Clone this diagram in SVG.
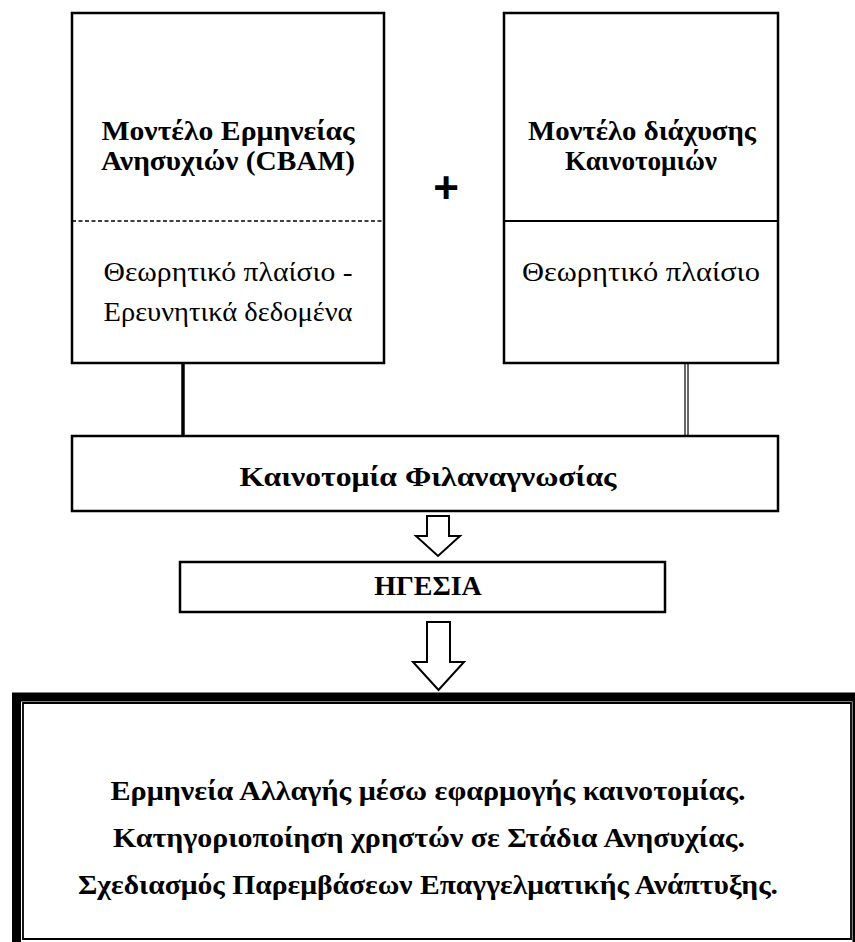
<svg xmlns="http://www.w3.org/2000/svg" width="855" height="942" viewBox="0 0 855 942">
<style>
.box{fill:#fff;stroke:#000;stroke-width:2.5}
.b{font-family:'Liberation Serif','Times New Roman','DejaVu Serif',serif;font-weight:bold;font-size:28px;fill:#000;text-anchor:middle}
.r{font-family:'Liberation Serif','Times New Roman','DejaVu Serif',serif;font-size:28px;fill:#000;text-anchor:middle}
.ln{stroke:#000;fill:none}
.arrow{fill:#fff;stroke:#000;stroke-width:2}
</style>
<rect width="855" height="942" fill="#fff"/>
<g id="cbam">
<rect class="box" x="72" y="13" width="312" height="350"/>
<line class="ln" x1="72" y1="221" x2="384" y2="221" stroke-width="1.5" stroke-dasharray="4,2.5"/>
<text class="b" x="228" y="140" textLength="253" lengthAdjust="spacingAndGlyphs">Μοντέλο Ερμηνείας</text>
<text class="b" x="228" y="170" textLength="254" lengthAdjust="spacingAndGlyphs">Ανησυχιών (CBAM)</text>
<text class="r" x="228" y="281" textLength="249" lengthAdjust="spacingAndGlyphs">Θεωρητικό πλαίσιο -</text>
<text class="r" x="228" y="321" textLength="249" lengthAdjust="spacingAndGlyphs">Ερευνητικά δεδομένα</text>
</g>
<g id="diffusion">
<rect class="box" x="504" y="13" width="274" height="350"/>
<line class="ln" x1="504" y1="221" x2="778" y2="221" stroke-width="2"/>
<text class="b" x="642" y="140" textLength="228" lengthAdjust="spacingAndGlyphs">Μοντέλο διάχυσης</text>
<text class="b" x="641" y="170" textLength="152" lengthAdjust="spacingAndGlyphs">Καινοτομιών</text>
<text class="r" x="641" y="281" textLength="238" lengthAdjust="spacingAndGlyphs">Θεωρητικό πλαίσιο</text>
</g>
<g id="plus">
<text x="446" y="203" font-family="'Liberation Sans', Arial, sans-serif" font-weight="bold" font-size="44" text-anchor="middle">+</text>
</g>
<g id="connectors">
<line class="ln" x1="183" y1="363" x2="183" y2="436" stroke-width="3.5"/>
<line class="ln" x1="685" y1="363" x2="685" y2="436" stroke-width="1.2"/>
<line class="ln" x1="688" y1="363" x2="688" y2="436" stroke-width="1.2"/>
<path class="arrow" d="M427,516 H449 V536 H460 L438,556 L416,536 H427 Z"/>
<path class="arrow" d="M427,622 H450 V662 H464 L438.5,690 L413,662 H427 Z" stroke-width="3"/>
</g>
<g id="filanagnosia">
<rect class="box" x="72" y="436" width="706" height="75"/>
<text class="b" x="428" y="486" font-size="30" textLength="377" lengthAdjust="spacingAndGlyphs">Καινοτομία Φιλαναγνωσίας</text>
</g>
<g id="hgesia">
<rect class="box" x="180" y="562" width="485" height="50"/>
<text class="b" x="428" y="595" font-size="26">ΗΓΕΣΙΑ</text>
</g>
<g id="outcomes">
<path d="M12,697 H862" stroke="#000" stroke-width="9" fill="none"/>
<path d="M16.5,693 V942" stroke="#000" stroke-width="9" fill="none"/>
<path d="M857,693 V942" stroke="#000" stroke-width="9" fill="none"/>
<path d="M23,703 H851 V939 H23 Z" stroke="#000" stroke-width="1.8" fill="none"/>
<text class="b" x="428" y="800" font-size="27" textLength="635" lengthAdjust="spacingAndGlyphs">Ερμηνεία Αλλαγής μέσω εφαρμογής καινοτομίας.</text>
<text class="b" x="429" y="847" font-size="27" textLength="632" lengthAdjust="spacingAndGlyphs">Κατηγοριοποίηση χρηστών σε Στάδια Ανησυχίας.</text>
<text class="b" x="428" y="894" font-size="27" textLength="700" lengthAdjust="spacingAndGlyphs">Σχεδιασμός Παρεμβάσεων Επαγγελματικής Ανάπτυξης.</text>
</g>
</svg>
